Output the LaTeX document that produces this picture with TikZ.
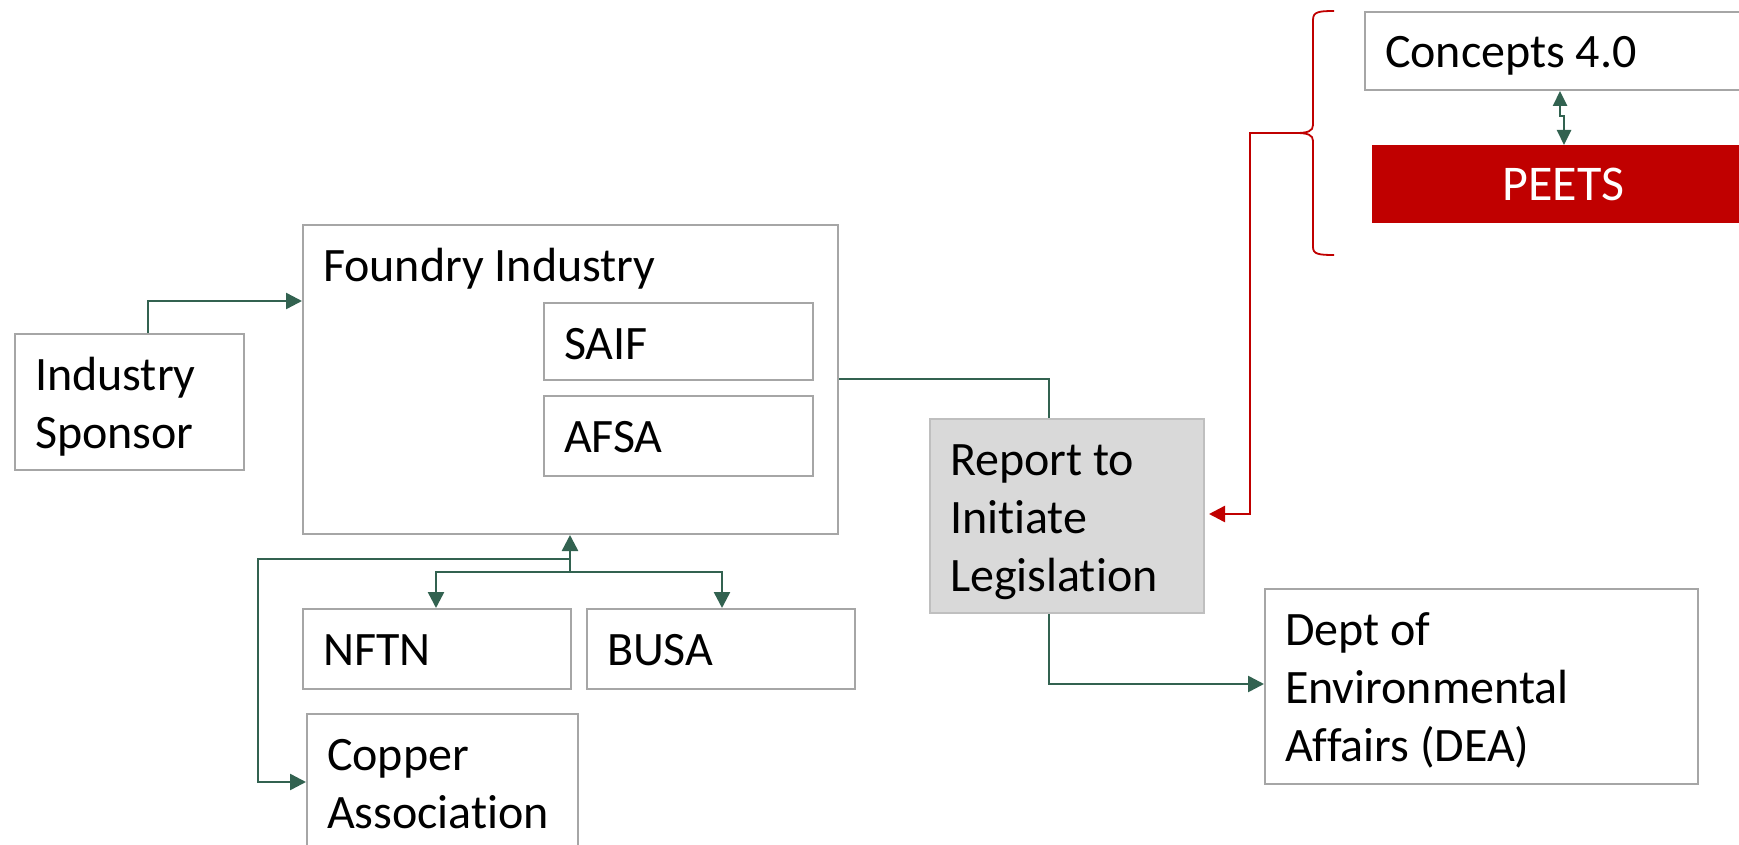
\documentclass[tikz,border=0pt]{standalone}
\usepackage{fontspec}
\setmainfont{Carlito}[Ligatures={NoCommon}]
\usetikzlibrary{arrows.meta}
\definecolor{dgreen}{RGB}{50,98,80}
\definecolor{bgray}{RGB}{166,166,166}
\definecolor{dred}{RGB}{192,0,0}
\definecolor{fgray}{RGB}{217,217,217}
\definecolor{rgray}{RGB}{191,191,191}
\newcommand{\bc}[3]{\parbox[t][#2][t]{#1}{\leftskip=10pt\rightskip=0pt plus 1fil\parindent=0pt\rule{0pt}{28pt}#3\par}}
\begin{document}
\begin{tikzpicture}[x=0.5pt,y=-0.5pt,
  font={\fontsize{24pt}{29pt}\selectfont},
  box/.style={draw=bgray, line width=1pt, inner sep=0pt, anchor=north west, fill=white},
  graybox/.style={box, draw=rgray, fill=fgray},
  peetsbox/.style={fill=dred, text=white, inner sep=0pt, anchor=north west, minimum width=191pt, minimum height=39pt, font={\fontsize{25pt}{29pt}\selectfont}},
  gline/.style={draw=dgreen, line width=1.25pt},
  garrow/.style={gline, -{Triangle[length=8pt,width=8pt]}},
  gdarrow/.style={gline, {Triangle[length=7.5pt,width=7pt]}-{Triangle[length=7.5pt,width=7pt]}},
  rarrow/.style={draw=dred, line width=1.25pt, -{Triangle[length=8pt,width=8pt]}},
  bracestyle/.style={draw=dred, line width=0.9pt}]
\clip (0,0) rectangle (1739,845);
\fill[white] (0,0) rectangle (1739,845);

% boxes
\node[box] (conc) at (1364,11) {\bc{200pt}{39pt}{Concepts 4.0}};
\node[peetsbox] (peets) at (1372,145) {PEETS};
\node[box] (found) at (302,224) {\bc{267.5pt}{154.5pt}{Foundry Industry}};
\node[box] (saif) at (543,302) {\bc{134.5pt}{38.5pt}{SAIF}};
\node[box] (afsa) at (543,395) {\bc{134.5pt}{40pt}{AFSA}};
\node[box] (spon) at (14,333) {\bc{114.5pt}{68pt}{Industry\\Sponsor}};
\node[graybox] (report) at (929,418) {\bc{137pt}{97pt}{Report to\\Initiate\\Legislation}};
\node[box] (nftn) at (302,608) {\bc{134pt}{40pt}{NFTN}};
\node[box] (busa) at (586,608) {\bc{134pt}{40pt}{BUSA}};
\node[box] (copper) at (306,713) {\bc{135.5pt}{75pt}{Copper\\Association}};
\node[box] (dea) at (1264,588) {\bc{216.5pt}{97.5pt}{Dept of\\Environmental\\Affairs (DEA)}};

% bend coordinates
\coordinate (s0) at (148,301);
\coordinate (j1) at (570,572);
\coordinate (j2) at (570,559);
\coordinate (n1) at (436,572);
\coordinate (b1) at (722,572);
\coordinate (c1) at (258,559);
\coordinate (c2) at (258,782);
\coordinate (r0) at (1049,379);
\coordinate (r1) at (1049,684);
\coordinate (btip) at (1296,133);
\coordinate (q1) at (1250,133);
\coordinate (q2) at (1250,514);
\coordinate (p1) at (1560,116);
\coordinate (p2) at (1564,116);

% green connectors
\draw[garrow] (s0 |- spon.north) -- (s0) -- (s0 -| found.west);
\draw[garrow] (j1) -- (j1 |- found.south);
\draw[garrow] (j1) -- (n1) -- (n1 |- nftn.north);
\draw[garrow] (j1) -- (b1) -- (b1 |- busa.north);
\draw[garrow] (j2) -- (c1) -- (c2) -- (c2 -| copper.west);
\draw[gline] (r0 -| found.east) -- (r0) -- (r0 |- report.north);
\draw[garrow] (r1 |- report.south) -- (r1) -- (r1 -| dea.west);
\draw[gdarrow] (p1 |- conc.south) -- (p1) -- (p2) -- (p2 |- peets.north);

% brace and red connector
\draw[bracestyle] (1334,11) .. controls (1318,11) and (1313,12) .. (1313,20)
  -- (1313,125) .. controls (1313,131) and (1308,133) .. (btip)
  .. controls (1308,133) and (1313,135) .. (1313,141)
  -- (1313,247) .. controls (1313,254) and (1318,255) .. (1334,255);
\draw[rarrow] (btip) -- (q1) -- (q2) -- ([xshift=2pt]q2 -| report.east);
\end{tikzpicture}
\end{document}
